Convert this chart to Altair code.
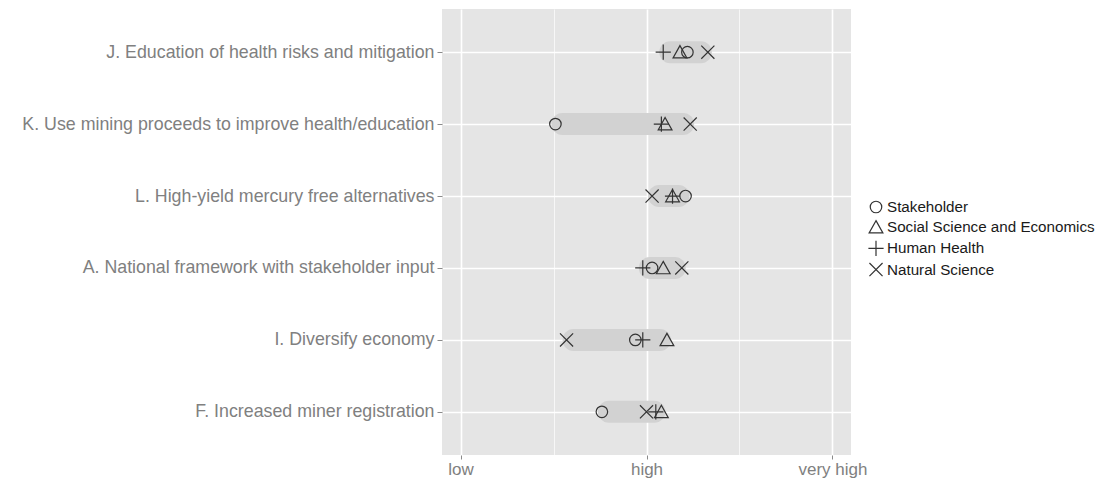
import altair as alt
import pandas as pd

items = [
    "J. Education of health risks and mitigation",
    "K. Use mining proceeds to improve health/education",
    "L. High-yield mercury free alternatives",
    "A. National framework with stakeholder input",
    "I. Diversify economy",
    "F. Increased miner registration",
]
groups = ["Stakeholder", "Social Science and Economics", "Human Health", "Natural Science"]
stakeholder = [2.22, 1.51, 2.21, 2.03, 1.94, 1.76]
social = [2.18, 2.10, 2.14, 2.09, 2.11, 2.08]
health = [2.09, 2.08, 2.14, 1.98, 1.98, 2.05]
natural = [2.33, 2.235, 2.03, 2.19, 1.57, 2.00]
tick_values = [1, 1.5, 2, 2.5, 3]
tick_labels = {1: "low", 2: "high", 3: "very high"}

series = {
    "Stakeholder": stakeholder,
    "Social Science and Economics": social,
    "Human Health": health,
    "Natural Science": natural,
}
rows = []
for g in groups:
    for it, v in zip(items, series[g]):
        rows.append({"item": it, "group": g, "value": v})
df = pd.DataFrame(rows)
rng = df.groupby("item", sort=False)["value"].agg(["min", "max"]).reset_index()

shape_paths = [
    "M0.72,0A0.72,0.72,0,1,1,-0.72,0A0.72,0.72,0,1,1,0.72,0",
    "M0,-0.82L0.86,0.72L-0.86,0.72Z",
    "M-0.95,0L0.95,0M0,-0.95L0,0.95",
    "M-0.82,-0.82L0.82,0.82M-0.82,0.82L0.82,-0.82",
]

label_expr = " : ".join(
    [f"datum.value == {k} ? '{v}'" for k, v in tick_labels.items()] + ["''"]
)

FONT = "Liberation Sans, Arial, sans-serif"
FS = 17.8

x_scale = alt.Scale(domain=[0.9, 3.1], nice=False, zero=False)
y_scale = alt.Scale(type="point", domain=items, padding=0.6)

x_axis = alt.Axis(
    values=tick_values,
    labelExpr=label_expr,
    title=None,
    grid=True,
    gridColor="white",
    gridWidth={"condition": {"test": "datum.value % 1 == 0", "value": 1.6}, "value": 0.7},
    tickOpacity={"condition": {"test": "datum.value % 1 == 0", "value": 1}, "value": 0},
    domain=False,
    ticks=True,
    tickSize=4,
    tickColor="#8a8a8a",
    labelColor="#808080",
    labelFontSize=17,
    labelFont=FONT,
    labelPadding=2,
    labelFlush=False,
)
y_axis = alt.Axis(
    title=None,
    grid=True,
    gridColor="white",
    gridWidth=1.6,
    domain=False,
    ticks=True,
    tickSize=5,
    tickColor="#8a8a8a",
    labelColor="#808080",
    labelFontSize=FS,
    labelFont=FONT,
    labelPadding=3,
    labelLimit=600,
)

bars = alt.Chart(rng).mark_bar(
    height=22, cornerRadius=11, color="#d2d2d2", xOffset=-4, x2Offset=4
).encode(
    x=alt.X("min:Q", scale=x_scale, axis=x_axis),
    x2="max:Q",
    y=alt.Y("item:N", scale=y_scale, axis=y_axis, sort=items),
)

points = alt.Chart(df).mark_point(
    filled=False, size=256, strokeWidth=1.2, color="#333333", opacity=1
).encode(
    x=alt.X("value:Q", scale=x_scale),
    y=alt.Y("item:N", scale=y_scale, sort=items),
    shape=alt.Shape(
        "group:N",
        scale=alt.Scale(domain=groups, range=shape_paths),
        legend=alt.Legend(
            title=None,
            orient="none",
            legendX=425,
            legendY=189,
            labelFontSize=15.2,
            labelFont=FONT,
            labelColor="#1a1a1a",
            labelLimit=400,
            symbolSize=256,
            symbolStrokeWidth=1.2,
            symbolStrokeColor="#333333",
            symbolFillColor="transparent",
            rowPadding=2.2,
            labelOffset=2,
            padding=0,
        ),
    ),
)

chart = (
    alt.layer(bars, points)
    .properties(
        width=409,
        height=446,
        autosize=alt.AutoSizeParams(type="none"),
        padding={"left": 434, "top": 1, "right": 255, "bottom": 24},
        view=alt.ViewBackground(fill="#e5e5e5", stroke="transparent", strokeWidth=0),
    )
    .configure_view(fill="#e5e5e5", strokeWidth=0)
    .configure(background="white")
)

chart.save("out.html", embed_options={"renderer": "svg", "actions": False})
